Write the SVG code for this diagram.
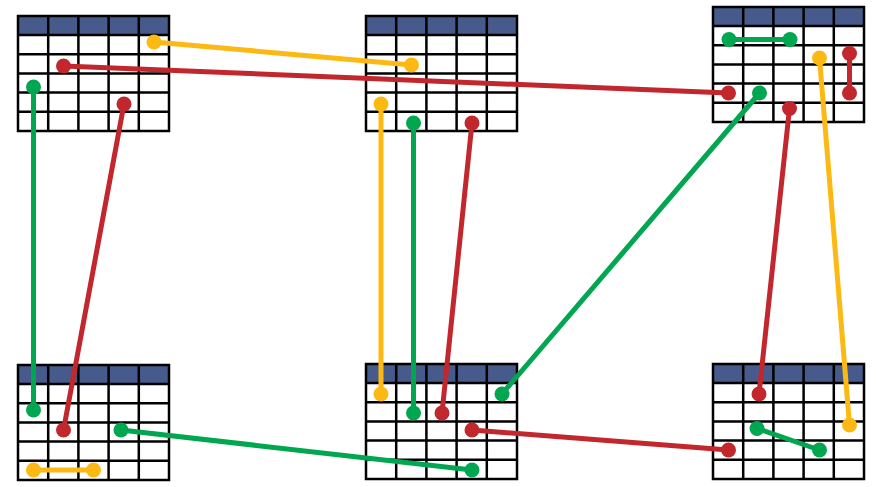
<svg xmlns="http://www.w3.org/2000/svg" xmlns:xlink="http://www.w3.org/1999/xlink" width="876" height="487" viewBox="0 0 876 487">
<style>
.hdr{fill:#475A8C}
.grid{fill:none;stroke:#000;stroke-width:2.5}
.ln{fill:none;stroke-width:5;stroke-linecap:round}
.y{stroke:#FDB913}
.r{stroke:#C1272D}
.g{stroke:#00A650}
.dy{fill:#FDB913}
.dr{fill:#C1272D}
.dg{fill:#00A650}
</style>
<defs>
<g id="table">
<rect x="0" y="0" width="151" height="115" fill="#fff"/>
<rect class="hdr" x="0" y="0" width="151" height="19"/>
<path class="grid" d="M0 19H151M0 38.2H151M0 57.4H151M0 76.6H151M0 95.8H151M30.2 0V115M60.4 0V115M90.6 0V115M120.8 0V115"/>
<rect class="grid" x="0" y="0" width="151" height="115"/>
</g>
</defs>
<g id="table-top-left"><use xlink:href="#table" href="#table" x="18" y="16"/></g>
<g id="table-top-middle"><use xlink:href="#table" href="#table" x="366" y="16"/></g>
<g id="table-top-right"><use xlink:href="#table" href="#table" x="713" y="7"/></g>
<g id="table-bottom-left"><use xlink:href="#table" href="#table" x="18" y="365"/></g>
<g id="table-bottom-middle"><use xlink:href="#table" href="#table" x="366" y="364"/></g>
<g id="table-bottom-right"><use xlink:href="#table" href="#table" x="713" y="364"/></g>
<g id="connectors">
<line class="ln y" x1="154" y1="42" x2="411.5" y2="65"/>
<line class="ln r" x1="63.5" y1="66" x2="728.5" y2="93"/>
<line class="ln g" x1="33.5" y1="87" x2="33.5" y2="410"/>
<line class="ln r" x1="124" y1="104" x2="63.5" y2="430"/>
<line class="ln y" x1="381" y1="104" x2="381" y2="394"/>
<line class="ln g" x1="413.5" y1="123" x2="413.5" y2="413"/>
<line class="ln r" x1="472" y1="123" x2="442" y2="413"/>
<line class="ln g" x1="729" y1="39.5" x2="790" y2="39.5"/>
<line class="ln r" x1="849.5" y1="53.5" x2="849.5" y2="93"/>
<line class="ln g" x1="759.5" y1="93" x2="502" y2="394"/>
<line class="ln r" x1="789.5" y1="108.5" x2="759" y2="394"/>
<line class="ln y" x1="819.5" y1="58" x2="849.5" y2="425"/>
<line class="ln g" x1="121" y1="430" x2="472" y2="470"/>
<line class="ln y" x1="33.5" y1="470" x2="93.5" y2="470"/>
<line class="ln r" x1="472" y1="430" x2="728.5" y2="450"/>
<line class="ln g" x1="757" y1="428.5" x2="819.5" y2="450"/>
<circle class="dy" cx="154" cy="42" r="7.5"/>
<circle class="dy" cx="411.5" cy="65" r="7.5"/>
<circle class="dr" cx="63.5" cy="66" r="7.5"/>
<circle class="dr" cx="728.5" cy="93" r="7.5"/>
<circle class="dg" cx="33.5" cy="87" r="7.5"/>
<circle class="dg" cx="33.5" cy="410" r="7.5"/>
<circle class="dr" cx="124" cy="104" r="7.5"/>
<circle class="dr" cx="63.5" cy="430" r="7.5"/>
<circle class="dy" cx="381" cy="104" r="7.5"/>
<circle class="dy" cx="381" cy="394" r="7.5"/>
<circle class="dg" cx="413.5" cy="123" r="7.5"/>
<circle class="dg" cx="413.5" cy="413" r="7.5"/>
<circle class="dr" cx="472" cy="123" r="7.5"/>
<circle class="dr" cx="442" cy="413" r="7.5"/>
<circle class="dg" cx="729" cy="39.5" r="7.5"/>
<circle class="dg" cx="790" cy="39.5" r="7.5"/>
<circle class="dr" cx="849.5" cy="53.5" r="7.5"/>
<circle class="dr" cx="849.5" cy="93" r="7.5"/>
<circle class="dg" cx="759.5" cy="93" r="7.5"/>
<circle class="dg" cx="502" cy="394" r="7.5"/>
<circle class="dr" cx="789.5" cy="108.5" r="7.5"/>
<circle class="dr" cx="759" cy="394" r="7.5"/>
<circle class="dy" cx="819.5" cy="58" r="7.5"/>
<circle class="dy" cx="849.5" cy="425" r="7.5"/>
<circle class="dg" cx="121" cy="430" r="7.5"/>
<circle class="dg" cx="472" cy="470" r="7.5"/>
<circle class="dy" cx="33.5" cy="470" r="7.5"/>
<circle class="dy" cx="93.5" cy="470" r="7.5"/>
<circle class="dr" cx="472" cy="430" r="7.5"/>
<circle class="dr" cx="728.5" cy="450" r="7.5"/>
<circle class="dg" cx="757" cy="428.5" r="7.5"/>
<circle class="dg" cx="819.5" cy="450" r="7.5"/>
</g>
</svg>
